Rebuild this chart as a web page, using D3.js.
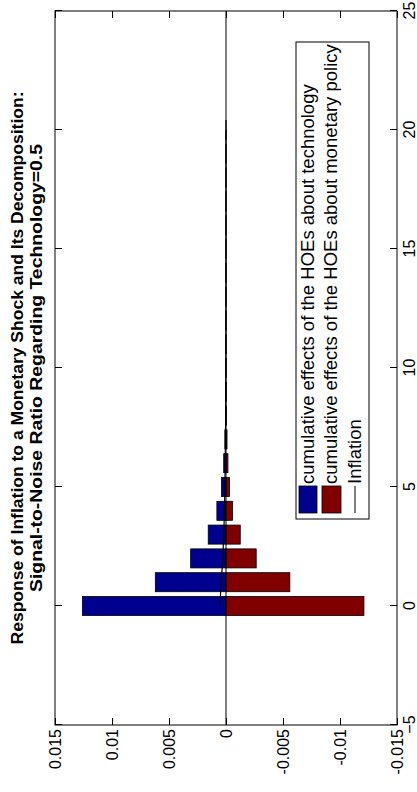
<!DOCTYPE html>
<html>
<head>
<meta charset="utf-8">
<script src="https://cdn.jsdelivr.net/npm/d3@7"></script>
<style>
  html, body { margin: 0; padding: 0; background: #fff; }
  svg { display: block; font-family: "Liberation Sans", Arial, Helvetica, sans-serif; }
</style>
</head>
<body>
<div id="chart"></div>
<script>
// Horizons (quarters after the shock)
const horizons = [0, 1, 2, 3, 4, 5, 6, 7, 8, 9, 10, 11, 12, 13, 14, 15, 16, 17, 18, 19, 20];
// Cumulative effects of the higher-order expectations about technology
const techHOE = [0.0126, 0.0062, 0.0031, 0.00156, 0.0008, 0.0004, 0.0002, 0.0001, 0.00005, 0.000028,
                 0.000015, 0.000009, 0.000005, 0.000003, 0.000002, 0.0000012, 0.0000008, 0.0000005, 0.0000003, 0.0000002, 0.0000001];
// Cumulative effects of the higher-order expectations about monetary policy
const monHOE = [-0.0121, -0.0056, -0.00265, -0.00125, -0.00057, -0.0003, -0.00017, -0.00009, -0.00004, -0.000022,
                -0.000012, -0.000007, -0.000004, -0.0000025, -0.0000015, -0.000001, -0.0000006, -0.0000004, -0.0000002, -0.0000001, -0.0000001];
// Inflation response
const inflation = [0.00054, 0.00042, 0.00028, 0.0002, 0.00013, 0.0001, 0.00007, 0.00005, 0.00003, 0.00002,
                   0.000012, 0.000008, 0.000005, 0.000003, 0.000002, 0.0000012, 0.0000008, 0.0000005, 0.0000003, 0.0000002, 0.0000001];

const horizonTicks = [-5, 0, 5, 10, 15, 20, 25];
const valueTicks = [0.015, 0.01, 0.005, 0, -0.005, -0.01, -0.015];
const valueTickLabels = ["0.015", "0.01", "0.005", "0", "-0.005", "-0.01", "-0.015"];

const titleLines = [
  "Response of Inflation to a Monetary Shock and Its Decomposition:",
  "Signal-to-Noise Ratio Regarding Technology=0.5"
];
const legendLabels = [
  "cumulative effects of the HOEs about technology",
  "cumulative effects of the HOEs about monetary policy",
  "Inflation"
];
const colTech = "#00008f";
const colMon = "#800000";

const W = 417, H = 792;
// plot drawn in a landscape frame, then turned a quarter turn
const plotW = 714, plotH = 342;

const svg = d3.select("#chart").append("svg")
  .attr("width", W).attr("height", H);

const g = svg.append("g").attr("transform", "translate(55,725) rotate(-90)");

const x = d3.scaleLinear().domain([-5, 25]).range([0, plotW]);
const y = d3.scaleLinear().domain([-0.015, 0.015]).range([plotH, 0]);
const bw = (x(1) - x(0)) * 0.8;

// bars
const bars = g.append("g");
bars.selectAll("rect.tech").data(horizons).join("rect")
  .attr("class", "tech")
  .attr("x", d => x(d) - bw / 2)
  .attr("width", bw)
  .attr("y", (d, i) => y(techHOE[i]))
  .attr("height", (d, i) => y(0) - y(techHOE[i]))
  .attr("fill", colTech).attr("stroke", "#000").attr("stroke-width", 0.8);
bars.selectAll("rect.mon").data(horizons).join("rect")
  .attr("class", "mon")
  .attr("x", d => x(d) - bw / 2)
  .attr("width", bw)
  .attr("y", y(0))
  .attr("height", (d, i) => y(monHOE[i]) - y(0))
  .attr("fill", colMon).attr("stroke", "#000").attr("stroke-width", 0.8);

// zero line
g.append("line")
  .attr("x1", 0).attr("x2", plotW)
  .attr("y1", y(0)).attr("y2", y(0))
  .attr("stroke", "#000").attr("stroke-width", 1);

// inflation line
g.append("path")
  .datum(horizons)
  .attr("fill", "none").attr("stroke", "#000").attr("stroke-width", 1.2)
  .attr("d", d3.line().x(d => x(d)).y((d, i) => y(inflation[i])));

// axes: ticks inward on all four sides
const tickLen = 7;
const axisStyle = sel => {
  sel.select(".domain").remove();
  sel.selectAll(".tick line").attr("stroke", "#000").attr("stroke-width", 1);
};
g.append("g").attr("transform", `translate(0,${plotH})`)
  .call(d3.axisBottom(x).tickValues(horizonTicks).tickSizeInner(-tickLen).tickSizeOuter(0).tickPadding(6))
  .call(axisStyle)
  .call(s => s.selectAll("text").attr("font-size", 16).attr("fill", "#000")
    .attr("font-family", "Liberation Sans, Arial, sans-serif").attr("dy", "0.78em"));
g.append("g")
  .call(d3.axisTop(x).tickValues(horizonTicks).tickSizeInner(-tickLen).tickSizeOuter(0).tickFormat(""))
  .call(axisStyle);
g.append("g")
  .call(d3.axisLeft(y).tickValues(valueTicks).tickSizeInner(-tickLen).tickSizeOuter(0).tickPadding(4)
    .tickFormat((d, i) => valueTickLabels[i]))
  .call(axisStyle)
  .call(s => s.selectAll("text").attr("font-size", 16).attr("fill", "#000")
    .attr("font-family", "Liberation Sans, Arial, sans-serif"));
g.append("g").attr("transform", `translate(${plotW},0)`)
  .call(d3.axisRight(y).tickValues(valueTicks).tickSizeInner(-tickLen).tickSizeOuter(0).tickFormat(""))
  .call(axisStyle);

// plot frame
g.append("rect")
  .attr("x", 0).attr("y", 0).attr("width", plotW).attr("height", plotH)
  .attr("fill", "none").attr("stroke", "#000").attr("stroke-width", 1);

// title
const titleLens = [553, 448];
g.selectAll("text.title").data(titleLines).join("text")
  .attr("class", "title")
  .attr("x", plotW / 2)
  .attr("y", (d, i) => -32 + i * 19)
  .attr("text-anchor", "middle")
  .attr("font-size", 16).attr("font-weight", "bold")
  .attr("textLength", (d, i) => titleLens[i])
  .attr("lengthAdjust", "spacingAndGlyphs")
  .text(d => d);

// legend
const lg = g.append("g").attr("transform", "translate(206,241)");
lg.append("rect").attr("width", 477).attr("height", 73)
  .attr("fill", "#fff").attr("stroke", "#000").attr("stroke-width", 1);
const rowV = [12, 35, 59];
lg.append("rect").attr("x", 6).attr("y", 3).attr("width", 27).attr("height", 18)
  .attr("fill", colTech).attr("stroke", "#000").attr("stroke-width", 0.8);
lg.append("rect").attr("x", 6).attr("y", 26).attr("width", 27).attr("height", 19)
  .attr("fill", colMon).attr("stroke", "#000").attr("stroke-width", 0.8);
lg.append("line").attr("x1", 6).attr("x2", 33).attr("y1", rowV[2]).attr("y2", rowV[2])
  .attr("stroke", "#000").attr("stroke-width", 1);
lg.selectAll("text").data(legendLabels).join("text")
  .attr("x", 35)
  .attr("y", (d, i) => rowV[i])
  .attr("dy", "0.35em")
  .attr("font-size", 18.5)
  .text(d => d);
</script>
</body>
</html>
